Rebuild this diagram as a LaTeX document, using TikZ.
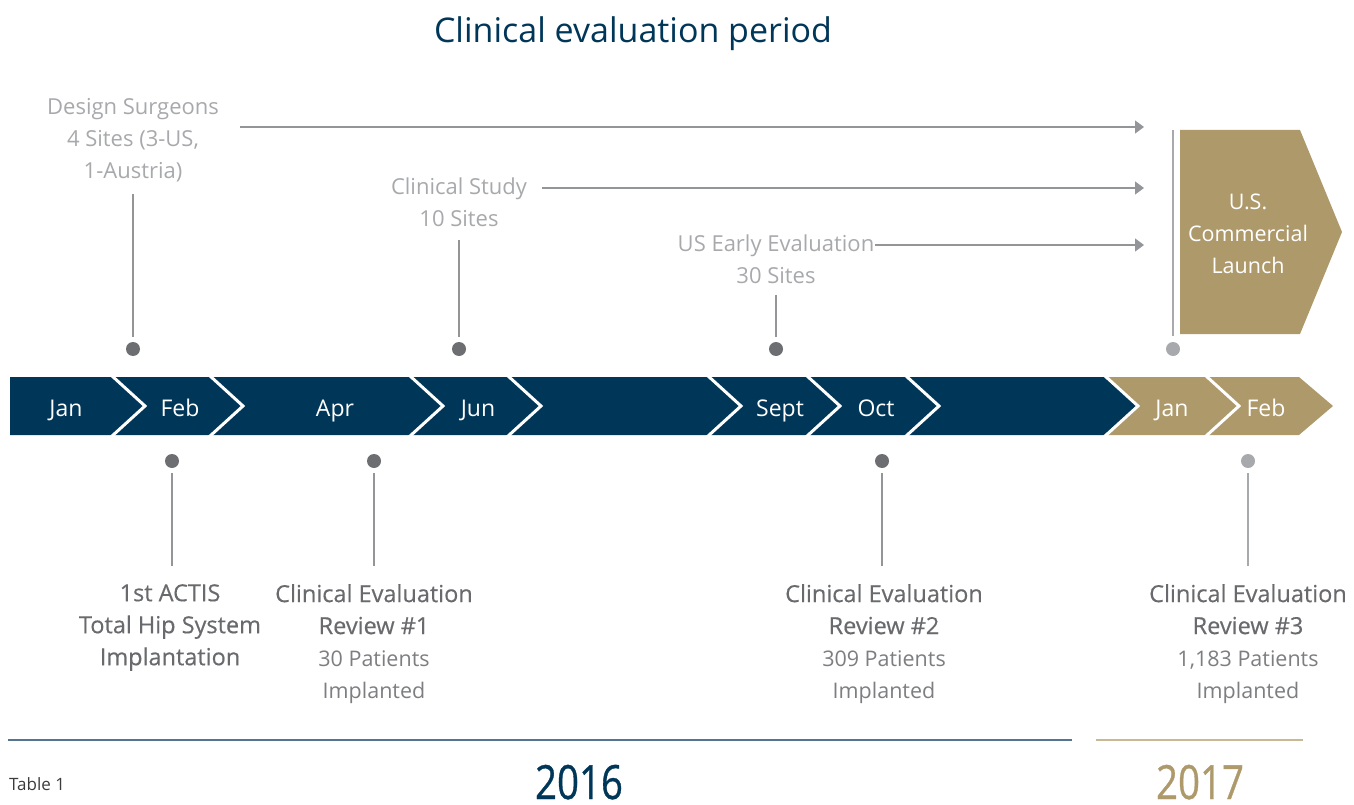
\documentclass[tikz,border=0pt]{standalone}
\usepackage{fontspec}
\setmainfont{Open Sans}
\usetikzlibrary{arrows.meta}
\definecolor{navy}{RGB}{0,54,88}
\definecolor{gold}{RGB}{174,153,107}
\definecolor{dotdk}{RGB}{109,110,113}
\definecolor{dotlt}{RGB}{167,169,172}
\definecolor{uptxt}{RGB}{167,169,172}
\definecolor{lowtxt}{RGB}{105,106,109}
\definecolor{lowtxtlt}{RGB}{125,126,129}
\definecolor{arrgray}{RGB}{147,149,152}
\definecolor{navyline}{RGB}{84,117,143}
\definecolor{goldline}{RGB}{200,184,150}
\definecolor{tbltxt}{RGB}{60,60,60}
\newcommand{\chevseg}[3]{%
  \fill[#3] (#1,377) -- (#1+34,406) -- (#1,435) -- (#2,435) -- (#2+34,406) -- (#2,377) -- cycle;}
\newcommand{\chevcut}[1]{%
  \draw[white, line width=3pt, line join=miter] (#1,375) -- (#1+34,406) -- (#1,437);}
\newcommand{\ttl}[1]{{\fontsize{23.5}{32}\selectfont\addfontfeature{FakeBold=0.4}#1}}
\newcommand{\bdy}[1]{\textcolor{lowtxtlt}{#1}}
\begin{document}
\begin{tikzpicture}[x=1pt,y=-1pt,
  uplbl/.style={text=uptxt, font=\fontsize{22}{32}\selectfont, align=center, inner sep=0pt},
  lowlbl/.style={text=lowtxt, font=\fontsize{21.5}{32}\selectfont, align=center, inner sep=0pt},
  month/.style={text=white, font=\fontsize{23}{26}\selectfont, inner sep=0pt, anchor=base},
  dotd/.style={circle, fill=dotdk, minimum size=14pt, inner sep=0pt},
  dotl/.style={circle, fill=dotlt, minimum size=14pt, inner sep=0pt},
  vline/.style={draw=arrgray, line width=1.3pt},
  arr/.style={draw=arrgray, line width=1.3pt, -{Triangle[length=9pt,width=13pt]}},
]
\useasboundingbox (0,0) rectangle (1354,805);

% title
\node[text=navy, font=\fontsize{34}{38}\selectfont, inner sep=0pt] (title) at (633,34) {Clinical evaluation period};

% timeline
\fill[navy] (10,377) -- (111,377) -- (145,406) -- (111,435) -- (10,435) -- cycle;
\chevseg{111}{209}{navy}
\chevseg{209}{409}{navy}
\chevseg{409}{507}{navy}
\chevseg{507}{707}{navy}
\chevseg{707}{806}{navy}
\chevseg{806}{905}{navy}
\chevseg{905}{1104}{navy}
\chevseg{1104}{1205}{gold}
\chevseg{1205}{1299}{gold}
\chevcut{111}\chevcut{209}\chevcut{409}\chevcut{507}\chevcut{707}\chevcut{806}\chevcut{905}\chevcut{1104}\chevcut{1205}

\node[month] (m1) at (66,416.5) {Jan};
\node[month] (m2) at (180,416.5) {Feb};
\node[month] (m3) at (335,416.5) {Apr};
\node[month] (m4) at (478,416.5) {Jun};
\node[month] (m5) at (780,416.5) {Sept};
\node[month] (m6) at (876,416.5) {Oct};
\node[month] (m7) at (1172,416.5) {Jan};
\node[month] (m8) at (1266,416.5) {Feb};

% launch
\fill[gold] (1180,130) -- (1300,130) -- (1342,232) -- (1300,334) -- (1180,334) -- cycle;
\node[text=white, font=\fontsize{21.5}{32}\selectfont, align=center, inner sep=0pt] (launch) at (1248,234) {U.S.\\Commercial\\Launch};
\node[dotl] (dl) at (1173,349) {};
\coordinate (lt) at (1173,130);
\draw[draw=dotlt, line width=1.5pt] (lt) -- ([yshift=6pt]dl.north);

% upper labels
\node[uplbl, anchor=north] (u1) at (133,98) {Design Surgeons\\4 Sites (3-US,\\1-Austria)};
\node[uplbl, anchor=north] (u2) at (459,177.5) {Clinical Study\\10 Sites};
\node[uplbl, anchor=north] (u3) at (776,234.5) {US Early Evaluation\\30 Sites};
\node[dotd] (d1) at (133,349) {};
\node[dotd] (d2) at (459,349) {};
\node[dotd] (d3) at (776,349) {};
\draw[vline] ([yshift=-12pt]u1.south) -- ([yshift=5pt]d1.north);
\draw[vline] ([yshift=-13pt]u2.south) -- ([yshift=5pt]d2.north);
\draw[vline] ([yshift=-11pt]u3.south) -- ([yshift=5pt]d3.north);
\coordinate (a1s) at (240,127); \coordinate (a1e) at (1144,127);
\coordinate (a2s) at (542,188); \coordinate (a2e) at (1144,188);
\coordinate (a3s) at (875,245); \coordinate (a3e) at (1144,245);
\draw[arr] (a1s) -- (a1e);
\draw[arr] (a2s) -- (a2e);
\draw[arr] (a3s) -- (a3e);

% lower labels
\node[dotd] (b1) at (172,461) {};
\node[dotd] (b2) at (374,461) {};
\node[dotd] (b3) at (882,461) {};
\node[dotl] (b4) at (1248,461) {};
\node[lowlbl, anchor=north] (l1) at (170,584) {\ttl{1st ACTIS}\\\ttl{Total Hip System}\\\ttl{Implantation}};
\node[lowlbl, anchor=north] (l2) at (374,584) {\ttl{Clinical Evaluation}\\\ttl{Review \#1}\\\bdy{30 Patients}\\\bdy{Implanted}};
\node[lowlbl, anchor=north] (l3) at (884,584) {\ttl{Clinical Evaluation}\\\ttl{Review \#2}\\\bdy{309 Patients}\\\bdy{Implanted}};
\node[lowlbl, anchor=north] (l4) at (1248,584) {\ttl{Clinical Evaluation}\\\ttl{Review \#3}\\\bdy{1,183 Patients}\\\bdy{Implanted}};
\draw[vline] ([yshift=-5pt]b1.south) -- (172,566);
\draw[vline] ([yshift=-5pt]b2.south) -- (374,566);
\draw[vline] ([yshift=-5pt]b3.south) -- (882,566);
\draw[draw=dotlt, line width=1.3pt] ([yshift=-5pt]b4.south) -- (1248,566);

% bottom rules and years
\coordinate (n1) at (8,740); \coordinate (n2) at (1072,740);
\coordinate (g1) at (1096,740); \coordinate (g2) at (1303,740);
\draw[navyline, line width=2.5pt] (n1) -- (n2);
\draw[goldline, line width=2pt] (g1) -- (g2);
\node[text=tbltxt, font=\fontsize{17}{20}\selectfont, anchor=west, inner sep=0pt] (tbl) at (9,784) {Table 1};
\node[text=navy, font=\fontsize{40}{44}\selectfont\addfontfeature{FakeBold=0.8}, inner sep=0pt, anchor=base] (y16) at (579,799) {\scalebox{0.96}[1.18]{2016}};
\node[text=gold, font=\fontsize{40}{44}\selectfont\addfontfeature{FakeBold=0.8}, inner sep=0pt, anchor=base] (y17) at (1200,799) {\scalebox{0.96}[1.18]{2017}};
\end{tikzpicture}
\end{document}
